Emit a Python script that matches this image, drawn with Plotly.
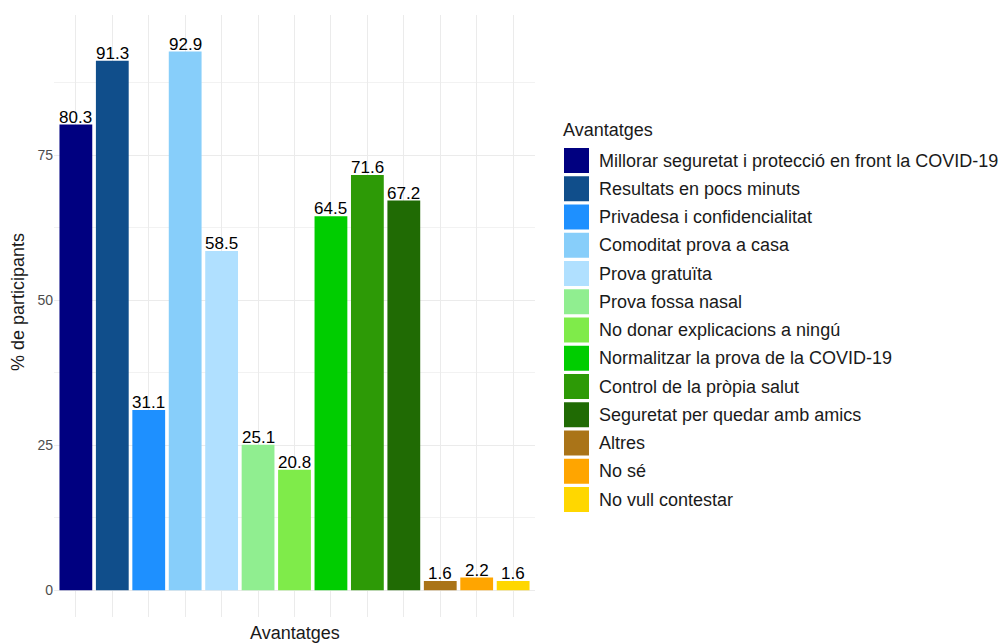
import plotly.graph_objects as go

# survey data
categories = [
    "Millorar seguretat i protecció en front la COVID-19",
    "Resultats en pocs minuts",
    "Privadesa i confidencialitat",
    "Comoditat prova a casa",
    "Prova gratuïta",
    "Prova fossa nasal",
    "No donar explicacions a ningú",
    "Normalitzar la prova de la COVID-19",
    "Control de la pròpia salut",
    "Seguretat per quedar amb amics",
    "Altres",
    "No sé",
    "No vull contestar",
]
percentages = [80.3, 91.3, 31.1, 92.9, 58.5, 25.1, 20.8, 64.5, 71.6, 67.2, 1.6, 2.2, 1.6]
colors = [
    "#000080", "#104E8B", "#1E90FF", "#87CEFA", "#B0E0FF",
    "#90EE90", "#7FEB4A", "#00CD00", "#2D9A06", "#206B04",
    "#AA7418", "#FFA500", "#FFD700",
]
y_ticks = [0, 25, 50, 75]

W, H = 1003, 644
PLOT_L, PLOT_R, PLOT_T, PLOT_B = 54, 535, 15, 617  # screen pixels
FONT = "Liberation Sans, Arial, sans-serif"


def px_x(px):
    return (px - PLOT_L) / (PLOT_R - PLOT_L)


def px_y(py):
    return (PLOT_B - py) / (PLOT_B - PLOT_T)


fig = go.Figure()
fig.add_bar(
    x=categories,
    y=percentages,
    marker={"color": colors, "line": {"width": 0}},
    showlegend=False,
    hovertemplate="%{x}: %{y}<extra></extra>",
)

# value labels sitting right on top of each bar
for name, value in zip(categories, percentages):
    fig.add_annotation(
        x=name, y=value, text=f"{value:.1f}", showarrow=False,
        yanchor="bottom", yshift=-4, font={"size": 17, "color": "#000000"},
    )

fig.update_layout(
    width=W,
    height=H,
    paper_bgcolor="white",
    plot_bgcolor="white",
    font={"family": FONT, "color": "#1a1a1a"},
    margin={"l": PLOT_L, "r": W - PLOT_R, "t": PLOT_T, "b": H - PLOT_B, "autoexpand": False},
    bargap=0.1,
)
fig.update_xaxes(
    range=[-0.6, len(categories) - 0.4],
    showticklabels=False,
    showgrid=True,
    gridcolor="#EBEBEB",
    gridwidth=1.1,
    zeroline=False,
    showline=False,
    ticks="",
)
fig.update_yaxes(
    range=[-4.6, 99.2],
    tickvals=y_ticks,
    tickfont={"size": 14, "color": "#4D4D4D"},
    showgrid=True,
    gridcolor="#EBEBEB",
    gridwidth=1.1,
    minor={"tickvals": [12.5, 37.5, 62.5, 87.5], "showgrid": True, "gridcolor": "#F2F2F2", "gridwidth": 0.7},
    zeroline=False,
    showline=False,
    ticks="",
)

# axis titles
fig.add_annotation(
    text="Avantatges", xref="paper", yref="paper", x=0.5, y=px_y(633),
    showarrow=False, font={"size": 18}, xanchor="center", yanchor="middle",
)
fig.add_annotation(
    text="% de participants", xref="paper", yref="paper", x=px_x(18), y=px_y(302),
    showarrow=False, font={"size": 18}, textangle=-90, xanchor="center", yanchor="middle",
)

# ggplot-style legend with large square keys
fig.add_annotation(
    text="Avantatges", xref="paper", yref="paper", x=px_x(561), y=px_y(130),
    showarrow=False, font={"size": 18}, xanchor="left", yanchor="middle",
)
key_top, key_step, key_size = 148, 28.25, 25
for i, (name, col) in enumerate(zip(categories, colors)):
    top = key_top + i * key_step
    fig.add_shape(
        type="rect", xref="paper", yref="paper",
        x0=px_x(564), x1=px_x(564 + key_size), y0=px_y(top + key_size), y1=px_y(top),
        fillcolor=col, line={"width": 0},
    )
    fig.add_annotation(
        text=name, xref="paper", yref="paper", x=px_x(597), y=px_y(top + key_size / 2),
        showarrow=False, font={"size": 18}, xanchor="left", yanchor="middle",
    )

# drop the default body margin so the figure fills the window exactly
fig.write_html(
    "out.html",
    config={"displayModeBar": False},
    post_script="document.body.style.margin='0';document.body.style.overflow='hidden';",
)
